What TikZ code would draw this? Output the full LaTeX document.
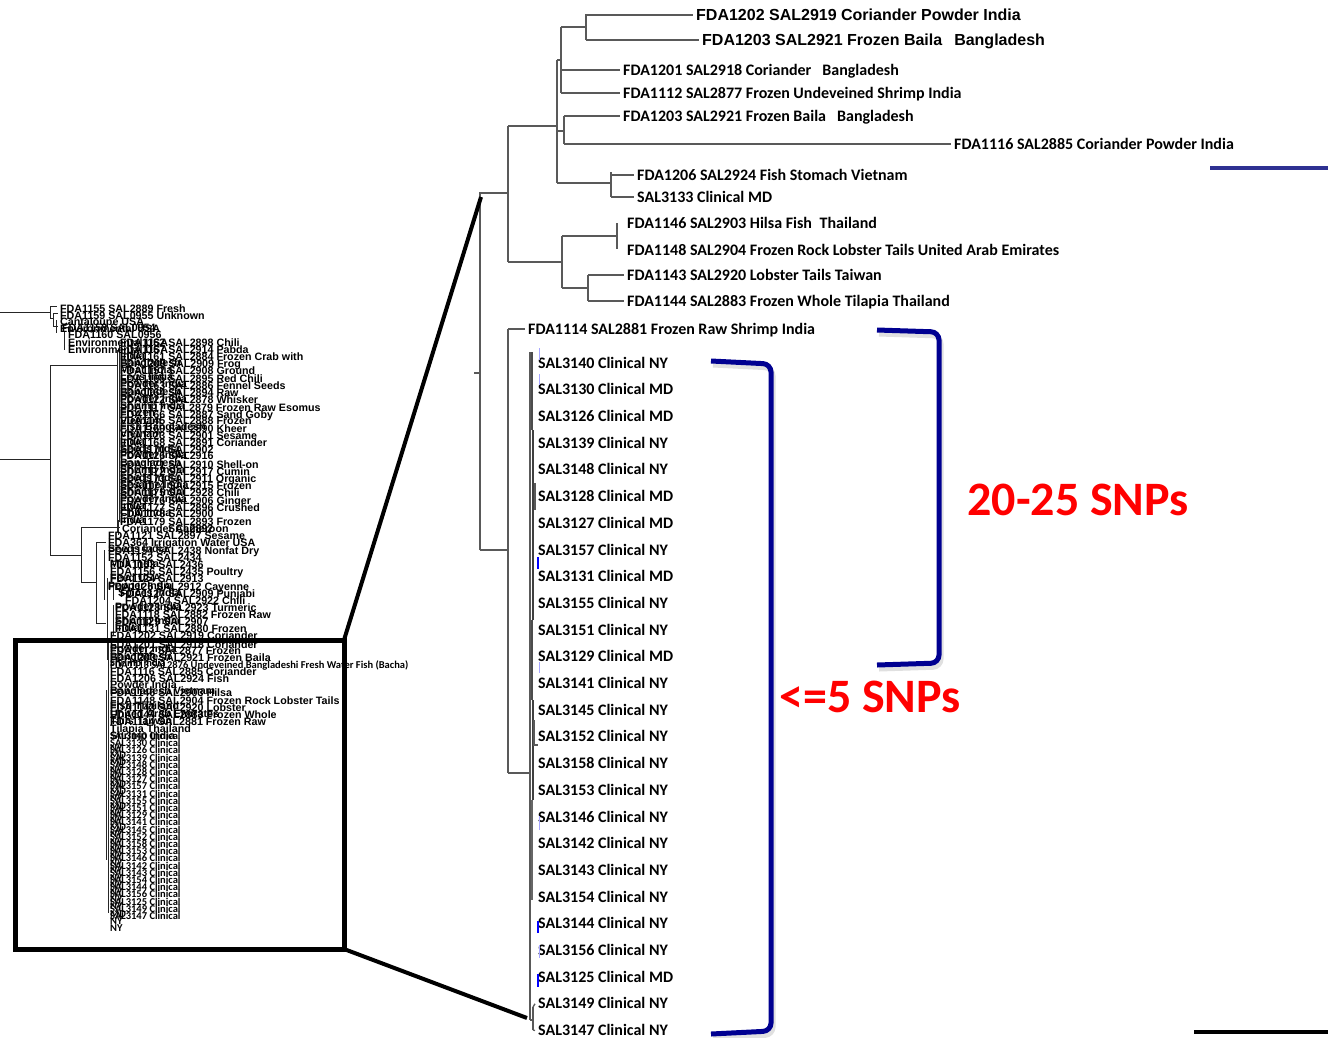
\documentclass[tikz,border=0pt]{standalone}
\usepackage{fontspec}
\setmainfont{Carlito}
\newfontfamily\lsans{Liberation Sans}
\newfontfamily\carl{Carlito}
\definecolor{navy}{RGB}{0,0,145}
\definecolor{bluebar}{RGB}{46,49,146}
\begin{document}
\begin{tikzpicture}[x=1pt,y=-1pt,
  tree/.style={draw=black!65, line width=1.3pt},
  mtree/.style={draw=black!85, line width=0.8pt},
  lab/.style={anchor=west, inner xsep=3pt, inner ysep=0pt, text depth=0pt, text=black},
  ra/.style={lab, text height=11.4pt, font=\lsans\bfseries\fontsize{16}{18}\selectfont},
  rc/.style={lab, text height=10.3pt, font=\carl\bfseries\fontsize{16}{18}\selectfont},
  la/.style={lab, inner xsep=0pt, text height=7.6pt, font=\lsans\bfseries\fontsize{10.7}{11}\selectfont},
  lc/.style={lab, inner xsep=0pt, text height=6.8pt, font=\carl\bfseries\fontsize{10.5}{11}\selectfont},
  brk/.style={draw=navy, line width=5pt, rounded corners=8pt},
  brkshadow/.style={draw=black!12, line width=5pt, rounded corners=8pt, shift={(2,4)}},
  snp/.style={text=red, inner sep=0pt, font=\carl\bfseries\fontsize{48}{50}\selectfont},
  tickl/.style={draw=blue!35, line width=1pt},
  tickd/.style={draw=blue, line width=1.5pt}
]
\useasboundingbox (0,0) rectangle (1328,1037);
\fill[white] (0,0) rectangle (1328,1037);

% ================= right tree: labels =================
\node[ra] (l1) at (693,15) {FDA1202 SAL2919 Coriander Powder India};
\node[ra] (l2) at (699,40) {FDA1203 SAL2921 Frozen Baila\hspace{12pt}Bangladesh};
\node[rc] (l3) at (620,70) {FDA1201 SAL2918 Coriander\hspace{11pt}Bangladesh};
\node[rc] (l4) at (620,93) {FDA1112 SAL2877 Frozen Undeveined Shrimp India};
\node[rc] (l5) at (620,116) {FDA1203 SAL2921 Frozen Baila\hspace{11pt}Bangladesh};
\node[rc] (l6) at (951,144) {FDA1116 SAL2885 Coriander Powder India};
\node[rc] (l7) at (634,175) {FDA1206 SAL2924 Fish Stomach Vietnam};
\node[rc] (l8) at (634,197) {SAL3133 Clinical MD};
\node[rc] (l9) at (624,223) {FDA1146 SAL2903 Hilsa Fish\hspace{4pt} Thailand};
\node[rc] (l10) at (624,250) {FDA1148 SAL2904 Frozen Rock Lobster Tails United Arab Emirates};
\node[rc] (l11) at (624,275) {FDA1143 SAL2920 Lobster Tails Taiwan};
\node[rc] (l12) at (624,301) {FDA1144 SAL2883 Frozen Whole Tilapia Thailand};
\node[rc] (l13) at (525,329) {FDA1114 SAL2881 Frozen Raw Shrimp India};

% clinical leaves
\foreach \nm/\st [count=\i] in {3140/NY,3130/MD,3126/MD,3139/NY,3148/NY,3128/MD,3127/MD,3157/NY,3131/MD,3155/NY,3151/NY,3129/MD,3141/NY,3145/NY,3152/NY,3158/NY,3153/NY,3146/NY,3142/NY,3143/NY,3154/NY,3144/NY,3156/NY,3125/MD,3149/NY,3147/NY}
  \node[rc] (c\i) at (535,{363+(\i-1)*26.7}) {SAL\nm\ Clinical \st};

% ================= right tree: branches =================
\coordinate (root) at (480,193);
\coordinate (rootb) at (480,550);
\draw[tree] (rootb) -- (root) -- (508,193);
\draw[tree] (474,373) -- (480,373);
% clade 1
\draw[tree] (508,126) -- (508,262);
\draw[tree] (508,126) -- (557,126);
\draw[tree] (557,60) -- (557,183);
\draw[tree] (557,60) -- (561,60);
\draw[tree] (561,27) -- (561,93);
\draw[tree] (561,27) -- (586,27);
\draw[tree] (586,14) -- (586,40);
\draw[tree] (586,15) -- (l1.west);
\draw[tree] (586,40) -- (l2.west);
\draw[tree] (561,70) -- (l3.west);
\draw[tree] (561,93) -- (l4.west);
\draw[tree] (557,131) -- (564,131);
\draw[tree] (564,116) -- (564,144);
\draw[tree] (564,116) -- (l5.west);
\draw[tree] (564,144) -- (l6.west);
\draw[tree] (557,183) -- (611,183);
\draw[tree] (611,172) -- (611,197);
\draw[tree] (611,175) -- (l7.west);
\draw[tree] (611,197) -- (l8.west);
\draw[tree] (508,262) -- (562,262);
\draw[tree] (562,236) -- (562,288);
\draw[tree] (562,236) -- (617,236);
\draw[tree] (617,223) -- (617,249);
\draw[tree] (562,288) -- (588,288);
\draw[tree] (588,275) -- (588,301);
\draw[tree] (588,275) -- (l11.west);
\draw[tree] (588,301) -- (l12.west);
% clade 2
\draw[tree] (rootb) -- (508,550);
\draw[tree] (508,329) -- (508,773);
\draw[tree] (508,329) -- (l13.west);
\draw[tree] (508,773) -- (530,773);
\draw[tree] (530,352) -- (530,1020);
\draw[draw=black!70, line width=1.6pt] (532,352) -- (532,430);
\draw[draw=black!75, line width=1.8pt] (533,430) -- (533,620);
\draw[draw=black!70, line width=1.4pt] (532,620) -- (532,700);
\draw[draw=black!75, line width=1.8pt] (533,700) -- (533,800);
\draw[draw=black!60, line width=1.2pt] (532,800) -- (532,900);
\draw[tree] (535,483) -- (535,510);
\draw[tree] (534,720) -- (534,745) -- (538,745);
\draw[tree] (530,1020) -- (533,1020);
\draw[tree] (533,1007) -- (533,1030);
\draw[tree] (533,1007) -- (c25.west);
\draw[tree] (533,1030) -- (c26.west);
% blue ticks
\draw[tickl] (539,348) -- (539,360);
\draw[tickl] (539,374) -- (539,385);
\draw[tickd] (538,557) -- (538,569);
\draw[tickl] (539,662) -- (539,673);
\draw[tickl] (539,816) -- (539,830);
\draw[tickd] (538,921) -- (538,933);
\draw[tickl] (539,945) -- (539,958);
\draw[tickd] (538,974) -- (538,987);

% ================= brackets and SNP labels =================
\draw[brkshadow] (877,330) -- (939,332) -- (939,663) -- (877,665);
\draw[brk] (877,330) -- (939,332) -- (939,663) -- (877,665);
\draw[brkshadow] (711,361) -- (771,364) -- (771,1031) -- (711,1034);
\draw[brk] (711,361) -- (771,364) -- (771,1031) -- (711,1034);
\node[snp] (snp1) at (1078,500) {20-25 SNPs};
\node[snp] (snp2) at (870,697) {<=5 SNPs};
\coordinate (bl1) at (1210,168);
\coordinate (bl2) at (1328,168);
\draw[draw=bluebar, line width=4pt] (bl1) -- (bl2);
\coordinate (bk1) at (1194,1032);
\coordinate (bk2) at (1328,1032);
\draw[draw=black, line width=4pt] (bk1) -- (bk2);

% ================= left miniature tree =================
\draw[mtree] (0,312) -- (50,312);
\draw[mtree] (50,306) -- (50,318);
\draw[mtree] (50,306) -- (57,306);
\draw[mtree] (50,318) -- (53,318);
\draw[mtree] (53,313) -- (53,326) -- (58,326);
\draw[mtree] (53,313) -- (58,313);
\draw[mtree] (56,320) -- (56,333);
\draw[mtree] (64,332) -- (64,350);
\draw[mtree] (0,459) -- (50,459);
\draw[mtree] (50,365) -- (50,555);
\draw[mtree] (50,365) -- (118,365);
\draw[mtree] (117,350) -- (117,532);
\draw[mtree] (119,345) -- (119,522);
\draw[mtree] (118,520) -- (118,535);
\draw[mtree] (50,555) -- (81,555);
\draw[mtree] (81,527) -- (81,582);
\draw[mtree] (81,527) -- (120,527);
\draw[mtree] (81,582) -- (96,582);
\draw[mtree] (96,542) -- (96,623);
\draw[mtree] (96,542) -- (106,542);
\draw[mtree] (96,623) -- (106,623);
\draw[mtree] (104,550) -- (104,600);
\draw[mtree] (107,578) -- (107,660);
\draw[mtree] (113,585) -- (113,600);
\draw[mtree] (113,605) -- (113,635);
\draw[mtree] (108,640) -- (108,913);
\draw[mtree] (106,690) -- (106,860);

% upper-left labels
\foreach \xx/\yy/\tx [count=\i] in {
 60/309/FDA1155 SAL2889 Fresh,
 60/316/FDA1159 SAL0955 Unknown,
 60/322/Cantaloupe USA,
 62/328/FDA1158 SAL0954,
 60/329/Environmental USA,
 68/335/FDA1160 SAL0956,
 68/343/Environmental USA,
 68/350/Environmental USA,
 120/343/FDA1162 SAL2898 Chili,
 120/350/FDA1167 SAL2914 Pabda,
 120/357/FDA1161 SAL2884 Frozen Crab with,
 120/364/FDA1209 SAL2909 Frog,
 120/371/FDA1157 SAL2908 Ground,
 120/379/FDA1165 SAL2895 Red Chili,
 120/386/FDA1163 SAL2886 Fennel Seeds,
 120/393/FDA1164 SAL2894 Raw,
 120/400/FDA1122 SAL2878 Whisker,
 120/408/FDA1117 SAL2879 Frozen Raw Esomus,
 120/415/FDA1166 SAL2887 Sand Goby,
 120/421/FDA1145 SAL2888 Frozen,
 120/429/FDA1169 SAL2890 Kheer,
 120/436/FDA1123 SAL2901 Sesame,
 120/443/FDA1168 SAL2891 Coriander,
 120/450/FDA1170 SAL2902,
 120/456/FDA1126 SAL2916,
 120/465/FDA1171 SAL2910 Shell-on,
 120/472/FDA1172 SAL2917 Cumin,
 120/479/FDA1173 SAL2911 Organic,
 120/486/FDA1174 SAL2915 Frozen,
 120/493/FDA1175 SAL2928 Chili,
 120/501/FDA1176 SAL2906 Ginger,
 120/508/FDA1177 SAL2896 Crushed,
 120/514/FDA1178 SAL2900,
 120/522/FDA1179 SAL2893 Frozen,
 122/529/Coriander Cameroon,
 168/529/SAL2892,
 120/356/India,
 120/363/Bangladesh,
 120/370/Meat India,
 120/377/Legs India,
 120/384/Powder India,
 120/392/Bangladesh,
 120/399/Powder India,
 120/406/Shrimp India,
 120/413/Frozen,
 120/421/Vietnam,
 120/427/Fish Bangladesh,
 120/434/Vietnam,
 120/442/India,
 120/449/Seeds India,
 120/455/Powder India,
 120/463/Bangladesh,
 120/470/Shrimp India,
 120/478/Seeds India,
 120/485/Sesame India,
 120/492/Shrimp India,
 120/499/Powder India,
 120/506/India,
 120/513/Chili India,
 120/520/India,
 108/536/FDA1121 SAL2897 Sesame,
 108/543/FDA364 Irrigation Water USA,
 108/551/FDA1154 SAL2438 Nonfat Dry,
 108/549/Seeds India,
 108/558/FDA1152 SAL2434,
 110/565/FDA1153 SAL2436,
 110/564/Milk India,
 110/572/FDA1156 SAL2435 Poultry,
 110/579/FDA1124 SAL2913,
 110/578/Feed USA,
 108/587/FDA1125 SAL2912 Cayenne,
 108/586/Pepper India,
 120/594/FDA1127 SAL2909 Punjabi,
 118/593/Spices India,
 125/601/FDA1204 SAL2922 Chili,
 115/608/FDA1128 SAL2923 Turmeric,
 115/607/Powder India,
 115/615/FDA1118 SAL2882 Frozen Raw,
 115/622/FDA1129 SAL2907,
 115/621/Shrimp India,
 115/629/FDA1131 SAL2880 Frozen,
 115/628/India,
 110/636/FDA1202 SAL2919 Coriander,
 110/645/FDA1201 SAL2918 Coriander,
 110/651/FDA1112 SAL2877 Frozen,
 110/649/Powder India,
 110/658/FDA1203 SAL2921 Frozen Baila,
 110/657/Bangladesh,
 110/672/FDA1116 SAL2885 Coriander,
 110/679/FDA1206 SAL2924 Fish,
 110/685/Powder India,
 110/693/FDA1146 SAL2903 Hilsa,
 110/691/Bangladesh Vietnam,
 110/701/FDA1148 SAL2904 Frozen Rock Lobster Tails,
 110/708/FDA1143 SAL2920 Lobster,
 110/706/Fish Thailand,
 110/715/FDA1144 SAL2883 Frozen Whole,
 110/714/United Arab Emirates,
 110/722/FDA1114 SAL2881 Frozen Raw,
 110/721/Tails Taiwan,
 110/729/Tilapia Thailand,
 110/736/Shrimp India}
  \node[la] (ua\i) at (\xx,\yy) {\tx};

\node[lc] (ub1) at (110,665) {FDA1113 SAL2876 Undeveined Bangladeshi Fresh Water Fish (Bacha)};
\node[lc] (ub2) at (110,663) {Shrimp India};

% left clinical labels
\foreach \nm/\st [count=\i] in {3140/NY,3130/MD,3126/MD,3139/NY,3148/NY,3128/MD,3127/MD,3157/NY,3131/MD,3155/NY,3151/NY,3129/MD,3141/NY,3145/NY,3152/NY,3158/NY,3153/NY,3146/NY,3142/NY,3143/NY,3154/NY,3144/NY,3156/NY,3125/MD,3149/NY,3147/NY}
{
  \node[lc] (lc\i) at (110,{736+(\i-1)*7.2}) {SAL\nm\ Clinical};
  \node[lc] (ln\i) at (110,{748+(\i-1)*7.2}) {\st};
}

% ================= zoom box and connectors =================
\node[draw=black, line width=5pt, minimum width=329pt, minimum height=309pt,
      anchor=north west, inner sep=0pt, outer sep=0pt] (zoombox) at (15,640) {};
\coordinate (zt) at (481,197);
\coordinate (zb) at (527,1018);
\draw[line width=4pt] (zoombox.north east) -- (zt);
\draw[line width=4pt] (zoombox.south east) -- (zb);
\end{tikzpicture}
\end{document}
